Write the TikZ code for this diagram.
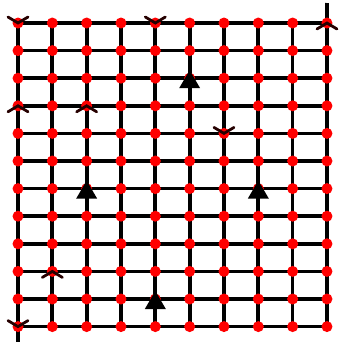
\documentclass[tikz,border=0pt]{standalone}
\begin{document}
\begin{tikzpicture}[x=1pt,y=-1pt,
  gridline/.style={line width=3.7pt,black},
  dot/.style={circle,fill=red,draw=none,inner sep=0pt,minimum size=11pt},
  arm/.style={line width=2.8pt,black!85!red,line cap=round},
  tri/.style={fill=black,draw=none}]
\useasboundingbox (0,0) rectangle (338,343);
\foreach \i in {0,...,9}
  \foreach \j in {0,...,11}
    \coordinate (p\i-\j) at ({18+34.33*\i},{23+27.6*\j});
\coordinate (topext) at (327,3);
\coordinate (botext) at (18,342);
% grid lines
\foreach \j in {0,...,11} \draw[gridline] (p0-\j) -- (p9-\j);
\foreach \i in {0,...,9} \draw[gridline] (p\i-0) -- (p\i-11);
\draw[gridline] (p9-0) -- (topext);
\draw[gridline] (p0-11) -- (botext);
% dots
\foreach \i in {0,...,9}
  \foreach \j in {0,...,11}
    \node[dot] (d\i-\j) at (p\i-\j) {};
% markers with arms pointing up
\foreach \m in {p0-0,p4-0,p6-4,p0-11}
  \draw[arm] (\m) ++(-10,-6) -- (\m) -- ++(10,-6);
% markers with arms pointing down
\foreach \m in {p9-0,p0-3,p2-3,p1-9}
  \draw[arm] (\m) ++(-10,6) -- (\m) -- ++(10,6);
% triangles
\foreach \m in {p5-2,p2-6,p7-6,p4-10}
  \fill[tri] (\m) ++(0,-8) -- ++(10.5,18) -- ++(-21,0) -- cycle;
\end{tikzpicture}
\end{document}
